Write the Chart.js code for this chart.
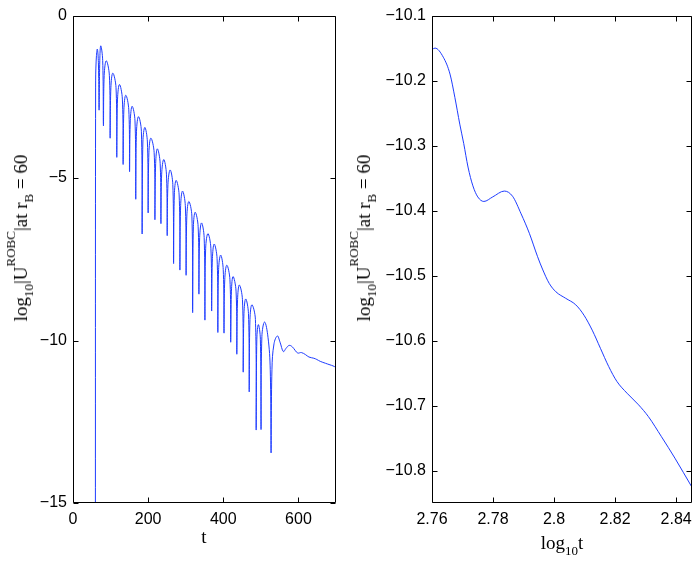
<!DOCTYPE html>
<html>
<head>
<meta charset="utf-8">
<script src="https://cdn.jsdelivr.net/npm/chart.js@4.4.1/dist/chart.umd.min.js"></script>
<style>
  html, body { margin:0; padding:0; background:#fff; }
  body { width:699px; height:564px; position:relative; overflow:hidden; }
  canvas { position:absolute; top:0; }
  #cL { left:0; }
  #cR { left:350px; }
  .ttl { position:absolute; white-space:nowrap; font-family:'Liberation Serif','Times New Roman',serif;
         font-size:19px; line-height:20px; height:20px; color:#000; }
  .ttl .sub { font-size:13px; position:relative; top:6px; }
  .ttl .sup { font-size:13px; position:relative; top:-12px; }
  .ytl { transform: translate(-50%,-50%) rotate(-90deg); }
  .xtl { transform: translateX(-50%); }
</style>
</head>
<body>
<canvas id="cL" width="350" height="564"></canvas>
<canvas id="cR" width="349" height="564"></canvas>

<div class="ttl ytl" style="left:20.5px; top:238px;">log<span class="sub">10</span>|U<span class="sup">ROBC</span>|at r<span class="sub">B</span> = 60</div>
<div class="ttl ytl" style="left:363.8px; top:238px;">log<span class="sub">10</span>|U<span class="sup">ROBC</span>|at r<span class="sub">B</span> = 60</div>
<div class="ttl xtl" style="left:204px; top:526.6px;">t</div>
<div class="ttl xtl" style="left:562px; top:532.8px;">log<span class="sub">10</span>t</div>

<script>
// ---------- Left panel: log10|U| versus t ----------
const tL = [59.6,60.2,61.6,64.7,67.6,
  69.4,71.3,73.9,79, 81,83,88.5,96.8, 98.8,100.8,106,114.5, 116.5,118.5,123.7,131.4,
  133.4,135.4,140.5,148.5, 150.5,152.5,157.4,165, 167,169,174.3,182, 184,186,191.2,198,
  200,202,207.2,216, 218,220,224.5,232, 234,236,241.5,248.7, 250.7,252.7,258.5,265.7,
  267.7,269.7,274.5,282.5, 284.5,286.5,291.5,299, 301,303,308.3,316.4, 318.4,320.4,325.2,333.1,
  335.1,337.1,342.1,349.1, 351.1,353.1,359.1,367, 369,371,375.8,383.5, 385.5,387.5,393,399.9,
  401.9,403.9,409.4,417.7, 419.7,421.7,426,434, 436,438,442.7,451, 453,455,459.7,467,
  469,471,476.2,485.5, 487.5,489.3,493.4,498.7, 500.5,502.7,510,519,
  525,527.2,529.5,535,544,551,560,567,575.3,
  583.4,591,598.4,607.8,619,628,641,649,658,672,684,692,700];
const yL = [-15.5,-2.2,-1.4,-1.03,-1.45,
  -2.91,-1.38,-0.93,-1.38, -3.39,-1.84,-1.39,-1.84, -3.77,-2.22,-1.77,-2.22, -4.36,-2.57,-2.12,-2.57,
  -4.58,-2.90,-2.45,-2.90, -4.80,-3.24,-2.79,-3.24, -5.65,-3.56,-3.11,-3.56, -6.72,-3.89,-3.44,-3.89,
  -6.07,-4.22,-3.77,-4.22, -6.28,-4.55,-4.10,-4.55, -6.40,-4.88,-4.43,-4.88, -6.77,-5.20,-4.75,-5.20,
  -7.63,-5.52,-5.07,-5.52, -7.83,-5.85,-5.40,-5.85, -7.99,-6.17,-5.72,-6.17, -9.14,-6.50,-6.05,-6.50,
  -8.57,-6.83,-6.38,-6.83, -9.37,-7.16,-6.71,-7.16, -9.09,-7.48,-7.03,-7.48, -9.75,-7.82,-7.37,-7.82,
  -9.77,-8.13,-7.68,-8.13, -10.05,-8.48,-8.03,-8.48, -10.42,-8.74,-8.29,-8.74, -10.97,-9.17,-8.72,-9.17,
  -11.58,-9.35,-8.90,-9.35, -12.75,-9.96,-9.51,-9.96, -12.74,-9.88,-9.43,-9.9,
  -10.9,-13.46,-10.9,-10.1,-9.86,-10.05,-10.34,-10.24,-10.15,
  -10.19,-10.30,-10.386,-10.37,-10.435,-10.507,-10.545,-10.584,-10.64,-10.70,-10.748,-10.78,-10.825];
const xTicksL = [0, 200, 400, 600];
const yTicksL = [0, -5, -10, -15];

// ---------- Right panel: log10|U| versus log10 t ----------
const logT = [2.7600,2.7610,2.7637,2.7659,2.7675,2.7691,2.7704,2.7718,2.7734,2.7750,2.7770,
  2.7799,2.7837,2.7864,2.7892,2.7919,2.7946,2.7962,2.7984,2.8006,2.8038,2.8071,2.8098,
  2.8125,2.8152,2.8179,2.8206,2.8239,2.8277,2.8309,2.8352,2.8396,2.8451];
const yR = [-10.152,-10.150,-10.164,-10.190,-10.226,-10.267,-10.297,-10.333,-10.362,-10.379,-10.386,
  -10.379,-10.370,-10.378,-10.405,-10.435,-10.471,-10.490,-10.512,-10.525,-10.535,-10.545,-10.561,
  -10.584,-10.612,-10.640,-10.663,-10.681,-10.699,-10.717,-10.748,-10.781,-10.825];
const xTicksR = [2.76, 2.78, 2.8, 2.82, 2.84];
const yTicksR = [-10.1, -10.2, -10.3, -10.4, -10.5, -10.6, -10.7, -10.8];

const LINE = 'rgb(30,60,255)';
const fmt = v => String(v).replace('-', '\u2212');

const frameTicks = {
  id: 'frameTicks',
  afterDraw(chart) {
    const { ctx, chartArea: a, scales } = chart;
    const L = Math.round(a.left) + 0.5, R = Math.round(a.right) - 0.5;
    const T = Math.round(a.top) + 0.5, B = Math.round(a.bottom) - 0.5;
    ctx.save();
    ctx.strokeStyle = '#000';
    ctx.lineWidth = 1;
    ctx.beginPath();
    ctx.moveTo(L, T); ctx.lineTo(R, T); ctx.lineTo(R, B); ctx.lineTo(L, B); ctx.closePath();
    const len = 5;
    scales.x.ticks.forEach(tk => {
      const p = Math.round(scales.x.getPixelForValue(tk.value)) + 0.5;
      ctx.moveTo(p, B); ctx.lineTo(p, B - len);
      ctx.moveTo(p, T); ctx.lineTo(p, T + len);
    });
    scales.y.ticks.forEach(tk => {
      const p = Math.round(scales.y.getPixelForValue(tk.value)) + 0.5;
      ctx.moveTo(L, p); ctx.lineTo(L + len, p);
      ctx.moveTo(R, p); ctx.lineTo(R - len, p);
    });
    ctx.stroke();
    ctx.restore();
  }
};

function makeChart(id, xs, ys, xr, yr, xt, yt, yWidth, padRight, tension, mode) {
  return new Chart(document.getElementById(id), {
    type: 'line',
    data: { datasets: [{
      data: xs.map((x, i) => ({ x: x, y: ys[i] })),
      borderColor: LINE, borderWidth: 1, pointRadius: 0, fill: false,
      tension: tension, cubicInterpolationMode: mode
    }]},
    options: {
      responsive: false, animation: false, devicePixelRatio: 1,
      layout: { padding: { top: 15, right: padRight, left: 0, bottom: 0 } },
      plugins: { legend: { display: false }, tooltip: { enabled: false } },
      scales: {
        x: {
          type: 'linear', min: xr[0], max: xr[1],
          afterBuildTicks: s => { s.ticks = xt.map(v => ({ value: v })); },
          afterFit: s => { s.height = 61; },
          grid: { display: false, drawTicks: false },
          border: { display: false },
          ticks: { color: '#000', padding: 7, maxRotation: 0, autoSkip: false,
                   font: { family: "'Liberation Sans', Arial, sans-serif", size: 16 },
                   callback: v => fmt(v) }
        },
        y: {
          type: 'linear', min: yr[0], max: yr[1],
          afterBuildTicks: s => { s.ticks = yt.map(v => ({ value: v })); },
          afterFit: s => { s.width = yWidth; },
          grid: { display: false, drawTicks: false },
          border: { display: false },
          ticks: { color: '#000', padding: 6, autoSkip: false,
                   font: { family: "'Liberation Sans', Arial, sans-serif", size: 16 },
                   callback: v => fmt(v) }
        }
      }
    },
    plugins: [frameTicks]
  });
}

makeChart('cL', tL, yL, [0, 700], [-15, 0], xTicksL, yTicksL, 73, 14, 0.4, 'default');
makeChart('cR', logT, yR, [2.76, 2.8451], [-10.85, -10.1], xTicksR, yTicksR, 82, 5, 0.4, 'monotone');
</script>
</body>
</html>
